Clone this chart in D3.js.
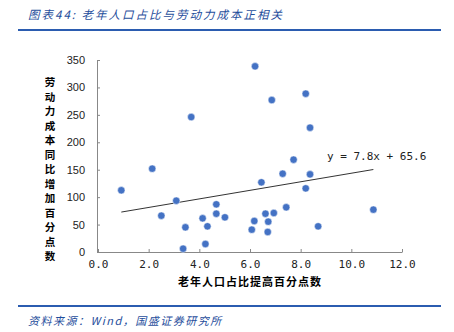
<!DOCTYPE html>
<html><head><meta charset="utf-8">
<script src="https://cdn.jsdelivr.net/npm/d3@7"></script>
<style>body{margin:0;background:#fff}svg{display:block}</style>
</head><body>
<svg id="c" width="454" height="332"></svg>
<script>
const xValues = [0.92,2.14,2.50,3.09,3.68,3.45,3.36,4.13,4.32,4.24,4.67,4.67,5.01,6.20,6.86,6.45,6.07,6.17,6.61,6.72,6.70,6.94,8.20,8.37,7.72,7.29,8.37,8.20,7.43,8.69,10.87];
const yValues = [112.5,151.9,66.2,93.5,246,45,6,61.4,46.8,14.6,86.9,69.8,63.2,338.5,277,127,40.7,56.5,69.8,55.3,36.5,71.1,288.6,226.6,168.3,142.7,141.6,116,81.5,46.8,77.2];
const xTicks = [0,2,4,6,8,10,12];
const yTicks = [0,50,100,150,200,250,300,350];
const slope = 7.8, intercept = 65.6;
const titleText = "图表44: 老年人口占比与劳动力成本正相关";
const sourceText = "资料来源：Wind，国盛证券研究所";
const xLabel = "老年人口占比提高百分点数";
const yLabel = "劳动力成本同比增加百分点数";
const eqText = "y = 7.8x + 65.6";

const svg = d3.select("#c");
const blue = "#1f4e9c";
const x = d3.scaleLinear().domain([0,12]).range([98,402]);
const y = d3.scaleLinear().domain([0,350]).range([252,60]);

// title
svg.append("text").attr("x",28).attr("y",19).attr("fill",blue)
  .attr("font-family","'Noto Sans CJK SC',sans-serif").attr("font-size",11.5).attr("font-style","italic").attr("letter-spacing",2)
  .text(titleText);
svg.append("line").attr("x1",18).attr("x2",441).attr("y1",30).attr("y2",30).attr("stroke","#2b5cb0").attr("stroke-width",2);
svg.append("line").attr("x1",18).attr("x2",441).attr("y1",306).attr("y2",306).attr("stroke","#2b5cb0").attr("stroke-width",2);
svg.append("text").attr("x",28).attr("y",325).attr("fill",blue)
  .attr("font-family","'Noto Sans CJK SC',sans-serif").attr("font-size",11).attr("font-style","italic").attr("letter-spacing",1.5)
  .text(sourceText);

// axes
const xAxis = d3.axisBottom(x).tickValues(xTicks).tickSizeInner(-3).tickSizeOuter(0).tickPadding(8).tickFormat(d3.format(".1f"));
const gx = svg.append("g").attr("transform","translate(0,252)").call(xAxis);
gx.select(".domain").attr("stroke","#888");
gx.selectAll(".tick line").attr("stroke","#888");
gx.selectAll("text").attr("font-family","'DejaVu Sans Mono',monospace").attr("font-size",11).attr("fill","#222");

const yAxis = d3.axisLeft(y).tickValues(yTicks).tickSizeInner(-3).tickSizeOuter(0).tickPadding(12);
const gy = svg.append("g").attr("transform","translate(97,0)").call(yAxis);
gy.select(".domain").attr("stroke","#888");
gy.selectAll(".tick line").attr("stroke","#888");
gy.selectAll("text").attr("font-family","Arial,'Liberation Sans',sans-serif").attr("font-size",11).attr("fill","#222");

// axis labels
svg.append("text").attr("x",250).attr("y",286).attr("text-anchor","middle")
  .attr("font-family","'Noto Sans CJK SC',sans-serif").attr("font-size",11).attr("font-weight","bold").attr("letter-spacing",1)
  .text(xLabel);
svg.append("text").attr("x",50).attr("y",77)
  .attr("font-family","'Noto Sans CJK SC',sans-serif").attr("font-size",10.5).attr("font-weight","bold")
  .style("writing-mode","vertical-rl").style("text-orientation","upright").attr("letter-spacing",4)
  .text(yLabel);

// trend line
const xmin = d3.min(xValues), xmax = d3.max(xValues);
svg.append("line").attr("x1",x(xmin)).attr("y1",y(slope*xmin+intercept))
  .attr("x2",x(xmax)).attr("y2",y(slope*xmax+intercept)).attr("stroke","#333").attr("stroke-width",1);
svg.append("text").attr("x",327).attr("y",160).attr("font-family","'DejaVu Sans Mono',monospace").attr("font-size",11).attr("fill","#222")
  .text(eqText);

// points
svg.append("g").selectAll("circle").data(xValues.map((v,i)=>[v,yValues[i]])).join("circle")
  .attr("cx",d=>x(d[0])).attr("cy",d=>y(d[1])).attr("r",3.7).attr("fill","#4472c4").attr("stroke","#fff").attr("stroke-width",0.5);
</script>
</body></html>
